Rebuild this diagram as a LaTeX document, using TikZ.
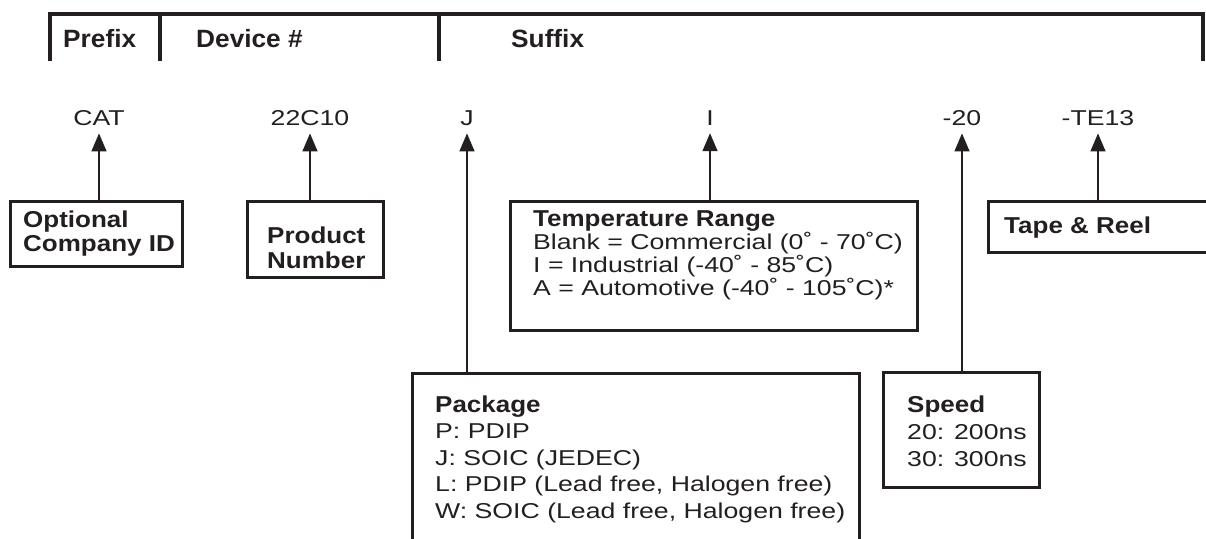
\documentclass[tikz,border=0pt]{standalone}
\usepackage{fontspec}
\setmainfont[FakeStretch=1.24]{Liberation Sans}
\newfontfamily\headfont[FakeStretch=1.05]{Liberation Sans}
\newfontfamily\titlefont[FakeStretch=1.13]{Liberation Sans}
\usetikzlibrary{arrows.meta, positioning}

\definecolor{ink}{HTML}{231F20}
\newcommand{\boxtitle}[1]{{\titlefont\bfseries\fontsize{23}{23}\selectfont #1}}

\begin{document}
\begin{tikzpicture}[
        x=1pt, y=-1pt,
        every node/.style={text=ink},
        header/.style={anchor=base west, inner sep=0pt, font=\headfont\bfseries\fontsize{25}{25}\selectfont},
        code/.style={anchor=base, inner xsep=0pt, inner ysep=8pt, font=\fontsize{21.5}{21.5}\selectfont},
        infobox/.style={draw=ink, line width=3pt, anchor=north west, inner sep=0pt, outer sep=0pt},
        boxtext/.style={anchor=base west, inner sep=0pt, align=left},
        pointer/.style={draw=ink, fill=ink, line width=1.4pt, -{Triangle[length=18pt, width=15pt]}}
    ]
        \useasboundingbox (0,0) rectangle (1206,538);
        \clip (0,0) rectangle (1206,538);

        % header bar
        \draw[ink, line width=3.3pt] (50,61) -- (50,14) -- (1203,14) -- (1203,61);
        \draw[ink, line width=3.3pt] (160,14) -- (160,61);
        \draw[ink, line width=3.3pt] (439,14) -- (439,61);
        \node[header] (prefix) at (63,47) {Prefix};
        \node[header] (device) at (196,47) {Device \#};
        \node[header] (suffix) at (511,47) {Suffix};

        % part number fields
        \node[code] (cat) at (99,125) {CAT};
        \node[code] (devnum) at (310,125) {22C10};
        \node[code] (pkgcode) at (467,125) {J};
        \node[code] (tempcode) at (710,125) {I};
        \node[code] (speedcode) at (962,125) {-20};
        \node[code] (tapecode) at (1098,125) {-TE13};

        % boxes
        \node[infobox, minimum width=172, minimum height=65] (coid) at (10,201) {};
        \node[infobox, minimum width=136, minimum height=76] (prod) at (247,201) {};
        \node[infobox, minimum width=407, minimum height=129] (temp) at (510,201) {};
        \node[infobox, minimum width=260, minimum height=51] (tape) at (988,201) {};
        \node[infobox, minimum width=447, minimum height=168] (pkg) at (412,373) {};
        \node[infobox, minimum width=156, minimum height=115] (speed) at (883,372) {};

        % box texts (anchored on the baseline of the last line)
        \node[boxtext, font=\titlefont\bfseries\fontsize{23}{24}\selectfont] (coidtext) at (23,251) {Optional\\Company ID};
        \node[boxtext, font=\titlefont\bfseries\fontsize{23}{25}\selectfont] (prodtext) at (267,268) {Product\\Number};
        \node[boxtext, font=\fontsize{21.5}{21}\selectfont] (temptext) at (533,295)
            {\boxtitle{Temperature Range}\\
             Blank = Commercial (0˚ - 70˚C)\\
             I = Industrial (-40˚ - 85˚C)\\
             A = Automotive (-40˚ - 105˚C)*};
        \node[boxtext, font=\titlefont\bfseries\fontsize{23}{23}\selectfont] (tapetext) at (1004,233) {Tape \& Reel};
        \node[boxtext, font=\fontsize{21.5}{26.5}\selectfont] (pkgtext) at (435,518)
            {\boxtitle{Package}\\
             P: PDIP\\
             J: SOIC (JEDEC)\\
             L: PDIP (Lead free, Halogen free)\\
             W: SOIC (Lead free, Halogen free)};
        \node[boxtext, font=\fontsize{21.5}{27}\selectfont] (speedtext) at (907,466)
            {\boxtitle{Speed}\\
             20: 200ns\\
             30: 300ns};

        % pointers
        \draw[pointer] (coid.north -| cat) -- (cat.south);
        \draw[pointer] (prod.north -| devnum) -- (devnum.south);
        \draw[pointer] (pkg.north -| pkgcode) -- (pkgcode.south);
        \draw[pointer] (temp.north -| tempcode) -- (tempcode.south);
        \draw[pointer] (speed.north -| speedcode) -- (speedcode.south);
        \draw[pointer] (tape.north -| tapecode) -- (tapecode.south);
    \end{tikzpicture}
\end{document}
